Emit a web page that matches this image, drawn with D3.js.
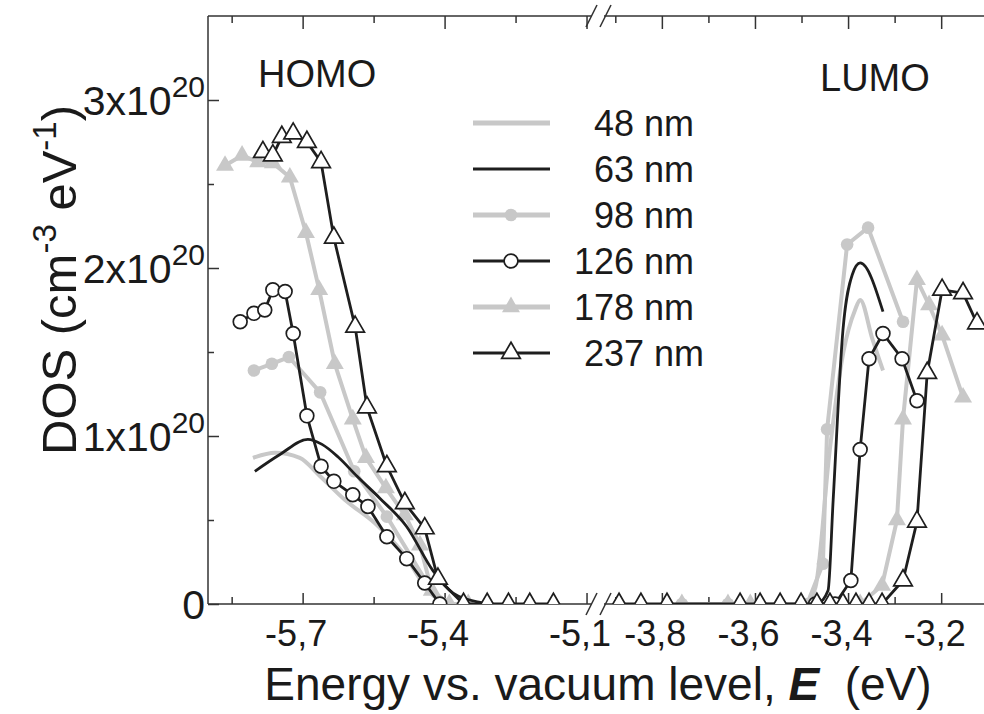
<!DOCTYPE html>
<html>
<head>
<meta charset="utf-8">
<script src="https://cdn.jsdelivr.net/npm/d3@7"></script>
<style>
body { margin: 0; background: #fff; }
text { font-family: "Liberation Sans", Arial, sans-serif; fill: #1a1a1a; }
</style>
</head>
<body>
<svg id="chart" width="984" height="714"></svg>
<script>
// DOS values in units of 1e20 cm^-3 eV^-1, energies in eV
var homo48 = [[-5.805,0.87],[-5.758,0.90],[-5.706,0.87],[-5.663,0.76],[-5.611,0.62],[-5.547,0.48],[-5.484,0.29],[-5.435,0.08],[-5.399,0]];
var lumo48 = [[-3.490,0],[-3.470,0.10],[-3.440,0.90],[-3.410,1.50],[-3.385,1.75],[-3.374,1.81],[-3.348,1.58],[-3.325,1.39]];

var homo63 = [[-5.801,0.79],[-5.748,0.89],[-5.689,0.98],[-5.659,0.95],[-5.625,0.875],[-5.585,0.76],[-5.537,0.63],[-5.480,0.46],[-5.425,0.20],[-5.382,0.065],[-5.325,0.01],[-5.30,0]];
var lumo63 = [[-3.465,0],[-3.443,0.08],[-3.432,0.62],[-3.411,1.63],[-3.391,1.96],[-3.374,2.03],[-3.325,1.74]];

var homo98 = [[-5.803,1.39],[-5.765,1.43],[-5.729,1.47],[-5.663,1.26],[-5.591,0.79],[-5.522,0.52],[-5.437,0.125],[-5.40,0]];
var lumo98 = [[-3.757,0],[-3.658,0],[-3.546,0],[-3.488,0],[-3.454,0.24],[-3.445,1.04],[-3.402,2.14],[-3.357,2.24],[-3.282,1.68]];

var homo126 = [[-5.832,1.68],[-5.803,1.73],[-5.780,1.75],[-5.763,1.87],[-5.737,1.86],[-5.720,1.61],[-5.691,1.12],[-5.661,0.82],[-5.634,0.73],[-5.594,0.65],[-5.562,0.58],[-5.522,0.40],[-5.480,0.27],[-5.442,0.125],[-5.41,0]];
var lumo126 = [[-3.470,0],[-3.428,0],[-3.394,0.14],[-3.374,0.92],[-3.355,1.46],[-3.325,1.61],[-3.284,1.46],[-3.252,1.21]];

var homo178 = [[-5.864,2.61],[-5.828,2.67],[-5.794,2.63],[-5.763,2.625],[-5.727,2.54],[-5.693,2.21],[-5.665,1.87],[-5.632,1.43],[-5.594,1.10],[-5.566,0.87],[-5.524,0.69],[-5.484,0.53],[-5.452,0.35],[-5.427,0.08],[-5.39,0],[-5.35,0]];
var lumo178 = [[-3.757,0],[-3.658,0],[-3.610,0],[-3.374,0],[-3.327,0.11],[-3.295,0.50],[-3.282,1.10],[-3.252,1.93],[-3.226,1.78],[-3.198,1.60],[-3.153,1.23]];

var homo237 = [[-5.784,2.69],[-5.763,2.67],[-5.744,2.78],[-5.720,2.80],[-5.691,2.75],[-5.661,2.63],[-5.634,2.18],[-5.589,1.65],[-5.564,1.17],[-5.522,0.82],[-5.484,0.60],[-5.442,0.45],[-5.414,0.15],[-5.36,0],[-5.31,0],[-5.265,0],[-5.22,0],[-5.17,0]];
var lumo237 = [[-3.892,0],[-3.845,0],[-3.789,0],[-3.632,0],[-3.589,0],[-3.546,0],[-3.501,0],[-3.467,0],[-3.439,0],[-3.411,0],[-3.383,0],[-3.355,0],[-3.327,0],[-3.282,0.14],[-3.252,0.49],[-3.230,1.375],[-3.198,1.87],[-3.153,1.85],[-3.123,1.67]];

var seriesNames = ["48 nm", "63 nm", "98 nm", "126 nm", "178 nm", "237 nm"];
var yTicks = [0, 1, 2, 3];
var yMinor = [0.5, 1.5, 2.5];
var xTicksLeft = [-5.7, -5.4, -5.1];
var xMinorLeft = [-5.85, -5.55, -5.25];
var xTicksRight = [-3.8, -3.6, -3.4, -3.2];
var xMinorRight = [-3.9, -3.7, -3.5, -3.3, -3.1];

var gray = "#c8c8c8", black = "#1e1e1e";
var series = [
    {name: seriesNames[0], homo: homo48,  lumo: lumo48,  color: gray,  width: 4,   marker: null},
    {name: seriesNames[2], homo: homo98,  lumo: lumo98,  color: gray,  width: 4,   marker: "circle", filled: true},
    {name: seriesNames[4], homo: homo178, lumo: lumo178, color: gray,  width: 4,   marker: "triangle", filled: true},
    {name: seriesNames[1], homo: homo63,  lumo: lumo63,  color: black, width: 2.8, marker: null},
    {name: seriesNames[3], homo: homo126, lumo: lumo126, color: black, width: 2.8, marker: "circle", filled: false},
    {name: seriesNames[5], homo: homo237, lumo: lumo237, color: black, width: 2.8, marker: "triangle", filled: false}
];
var legendOrder = [0, 3, 1, 4, 2, 5];

// plot box (don't use "top" as a global name, it is window.top)
var pLeft = 208, pRight = 984, pTop = 16, pBottom = 604;
var svg = d3.select("#chart");

// broken x axis: two linear pieces
var xL = d3.scaleLinear().domain([-5.9, -5.08]).range([pLeft, 596]);
var xR = d3.scaleLinear().domain([-3.92, -3.108]).range([606, pRight]);
var y = d3.scaleLinear().domain([0, 3.5]).range([pBottom, pTop]);

function fmt(d) { return (d < 0 ? "-" : "") + Math.abs(d).toFixed(1).replace(".", ","); }

// ticks
function addAxis(axis, tx, ty) {
    var g = svg.append("g").attr("transform", "translate(" + tx + "," + ty + ")").call(axis);
    g.select(".domain").remove();
    g.selectAll("line").attr("stroke", "#333").attr("stroke-width", 1.5);
    g.selectAll("text").style("font-size", "36px").attr("fill", "#1a1a1a").attr("dx", -7);
    return g;
}
addAxis(d3.axisBottom(xL).tickValues(xTicksLeft).tickSize(-11).tickPadding(16).tickFormat(fmt), 0, pBottom);
addAxis(d3.axisBottom(xL).tickValues(xMinorLeft).tickSize(-7).tickFormat(""), 0, pBottom);
addAxis(d3.axisBottom(xR).tickValues(xTicksRight).tickSize(-11).tickPadding(16).tickFormat(fmt), 0, pBottom);
addAxis(d3.axisBottom(xR).tickValues(xMinorRight).tickSize(-7).tickFormat(""), 0, pBottom);
addAxis(d3.axisTop(xL).tickValues(xTicksLeft).tickSize(-13).tickFormat(""), 0, pTop);
addAxis(d3.axisTop(xL).tickValues(xMinorLeft).tickSize(-7).tickFormat(""), 0, pTop);
addAxis(d3.axisTop(xR).tickValues(xTicksRight).tickSize(-13).tickFormat(""), 0, pTop);
addAxis(d3.axisTop(xR).tickValues(xMinorRight).tickSize(-7).tickFormat(""), 0, pTop);
addAxis(d3.axisLeft(y).tickValues(yTicks).tickSize(-11).tickFormat(""), pLeft, 0);
addAxis(d3.axisLeft(y).tickValues(yMinor).tickSize(-6).tickFormat(""), pLeft, 0);

// frame with break marks
var frame = svg.append("g").attr("stroke", "#333").attr("stroke-width", 1.5).attr("fill", "none");
frame.append("line").attr("x1", pLeft).attr("x2", pLeft).attr("y1", pTop).attr("y2", pBottom);
[pTop, pBottom].forEach(function(yy) {
    frame.append("line").attr("x1", pLeft).attr("x2", 592).attr("y1", yy).attr("y2", yy);
    frame.append("line").attr("x1", 604).attr("x2", pRight).attr("y1", yy).attr("y2", yy);
    frame.append("line").attr("x1", 586).attr("x2", 597).attr("y1", yy + 11).attr("y2", yy - 11);
    frame.append("line").attr("x1", 600).attr("x2", 611).attr("y1", yy + 11).attr("y2", yy - 11);
});

// y tick labels with superscripts
yTicks.forEach(function(v) {
    var t = svg.append("text").attr("x", 205).attr("y", y(v) + 15)
        .attr("text-anchor", "end").style("font-size", "41px");
    if (v === 0) { t.text("0"); return; }
    t.append("tspan").text(v + "x10");
    t.append("tspan").attr("dy", -18).style("font-size", "30px").text("20");
});

// axis titles
var xt = svg.append("text").attr("x", 598).attr("y", 700).attr("text-anchor", "middle").style("font-size", "46px");
xt.append("tspan").text("Energy vs. vacuum level, ");
xt.append("tspan").style("font-style", "italic").style("font-weight", "bold").text("E");
xt.append("tspan").text("\u00a0 (eV)");

var yt = svg.append("text").attr("transform", "translate(76,280) rotate(-90)")
    .attr("text-anchor", "middle").style("font-size", "49px");
yt.append("tspan").text("DOS (cm");
yt.append("tspan").attr("dy", -20).style("font-size", "33px").text("-3");
yt.append("tspan").attr("dy", 20).text(" eV");
yt.append("tspan").attr("dy", -20).style("font-size", "33px").text("-1");
yt.append("tspan").attr("dy", 20).text(")");

svg.append("text").attr("x", 258).attr("y", 87).style("font-size", "38px").text("HOMO");
svg.append("text").attr("x", 820).attr("y", 91).style("font-size", "38px").text("LUMO");

// data
svg.append("clipPath").attr("id", "plotclip").append("rect")
    .attr("x", pLeft).attr("y", pTop).attr("width", pRight - pLeft).attr("height", pBottom - pTop);
var plot = svg.append("g").attr("clip-path", "url(#plotclip)");

function markerPath(s) {
    if (s.marker === "circle") return d3.symbol(d3.symbolCircle, s.filled ? 125 : 150)();
    return d3.symbol(d3.symbolTriangle, s.filled ? 140 : 150)();
}
function drawMarkers(g, s, pts) {
    g.selectAll(null).data(pts).join("path")
        .attr("d", markerPath(s))
        .attr("transform", function(d) { return "translate(" + d[0] + "," + d[1] + ")"; })
        .attr("fill", s.filled ? s.color : "#fff")
        .attr("stroke", s.filled ? "none" : s.color)
        .attr("stroke-width", 1.7);
}

series.forEach(function(s) {
    var g = plot.append("g");
    [[s.homo, xL], [s.lumo, xR]].forEach(function(part) {
        var sx = part[1];
        var pts = part[0].map(function(d) { return [sx(d[0]), y(d[1])]; });
        var line = d3.line().curve(s.marker ? d3.curveLinear : d3.curveMonotoneX);
        g.append("path").attr("d", line(pts)).attr("fill", "none")
            .attr("stroke", s.color).attr("stroke-width", s.width).attr("stroke-linejoin", "round");
        if (s.marker) drawMarkers(g, s, pts);
    });
});

// legend
var leg = svg.append("g");
legendOrder.forEach(function(idx, i) {
    var s = series[idx];
    var ly = 123 + i * 46;
    leg.append("line").attr("x1", 473).attr("x2", 550).attr("y1", ly).attr("y2", ly)
        .attr("stroke", s.color).attr("stroke-width", s.color === gray ? 5 : 3);
    if (s.marker) drawMarkers(leg, s, [[511, ly]]);
    leg.append("text").attr("x", i === 5 ? 704 : 694).attr("y", ly + 13).attr("text-anchor", "end")
        .style("font-size", "36px").text(s.name);
});
</script>
</body>
</html>
